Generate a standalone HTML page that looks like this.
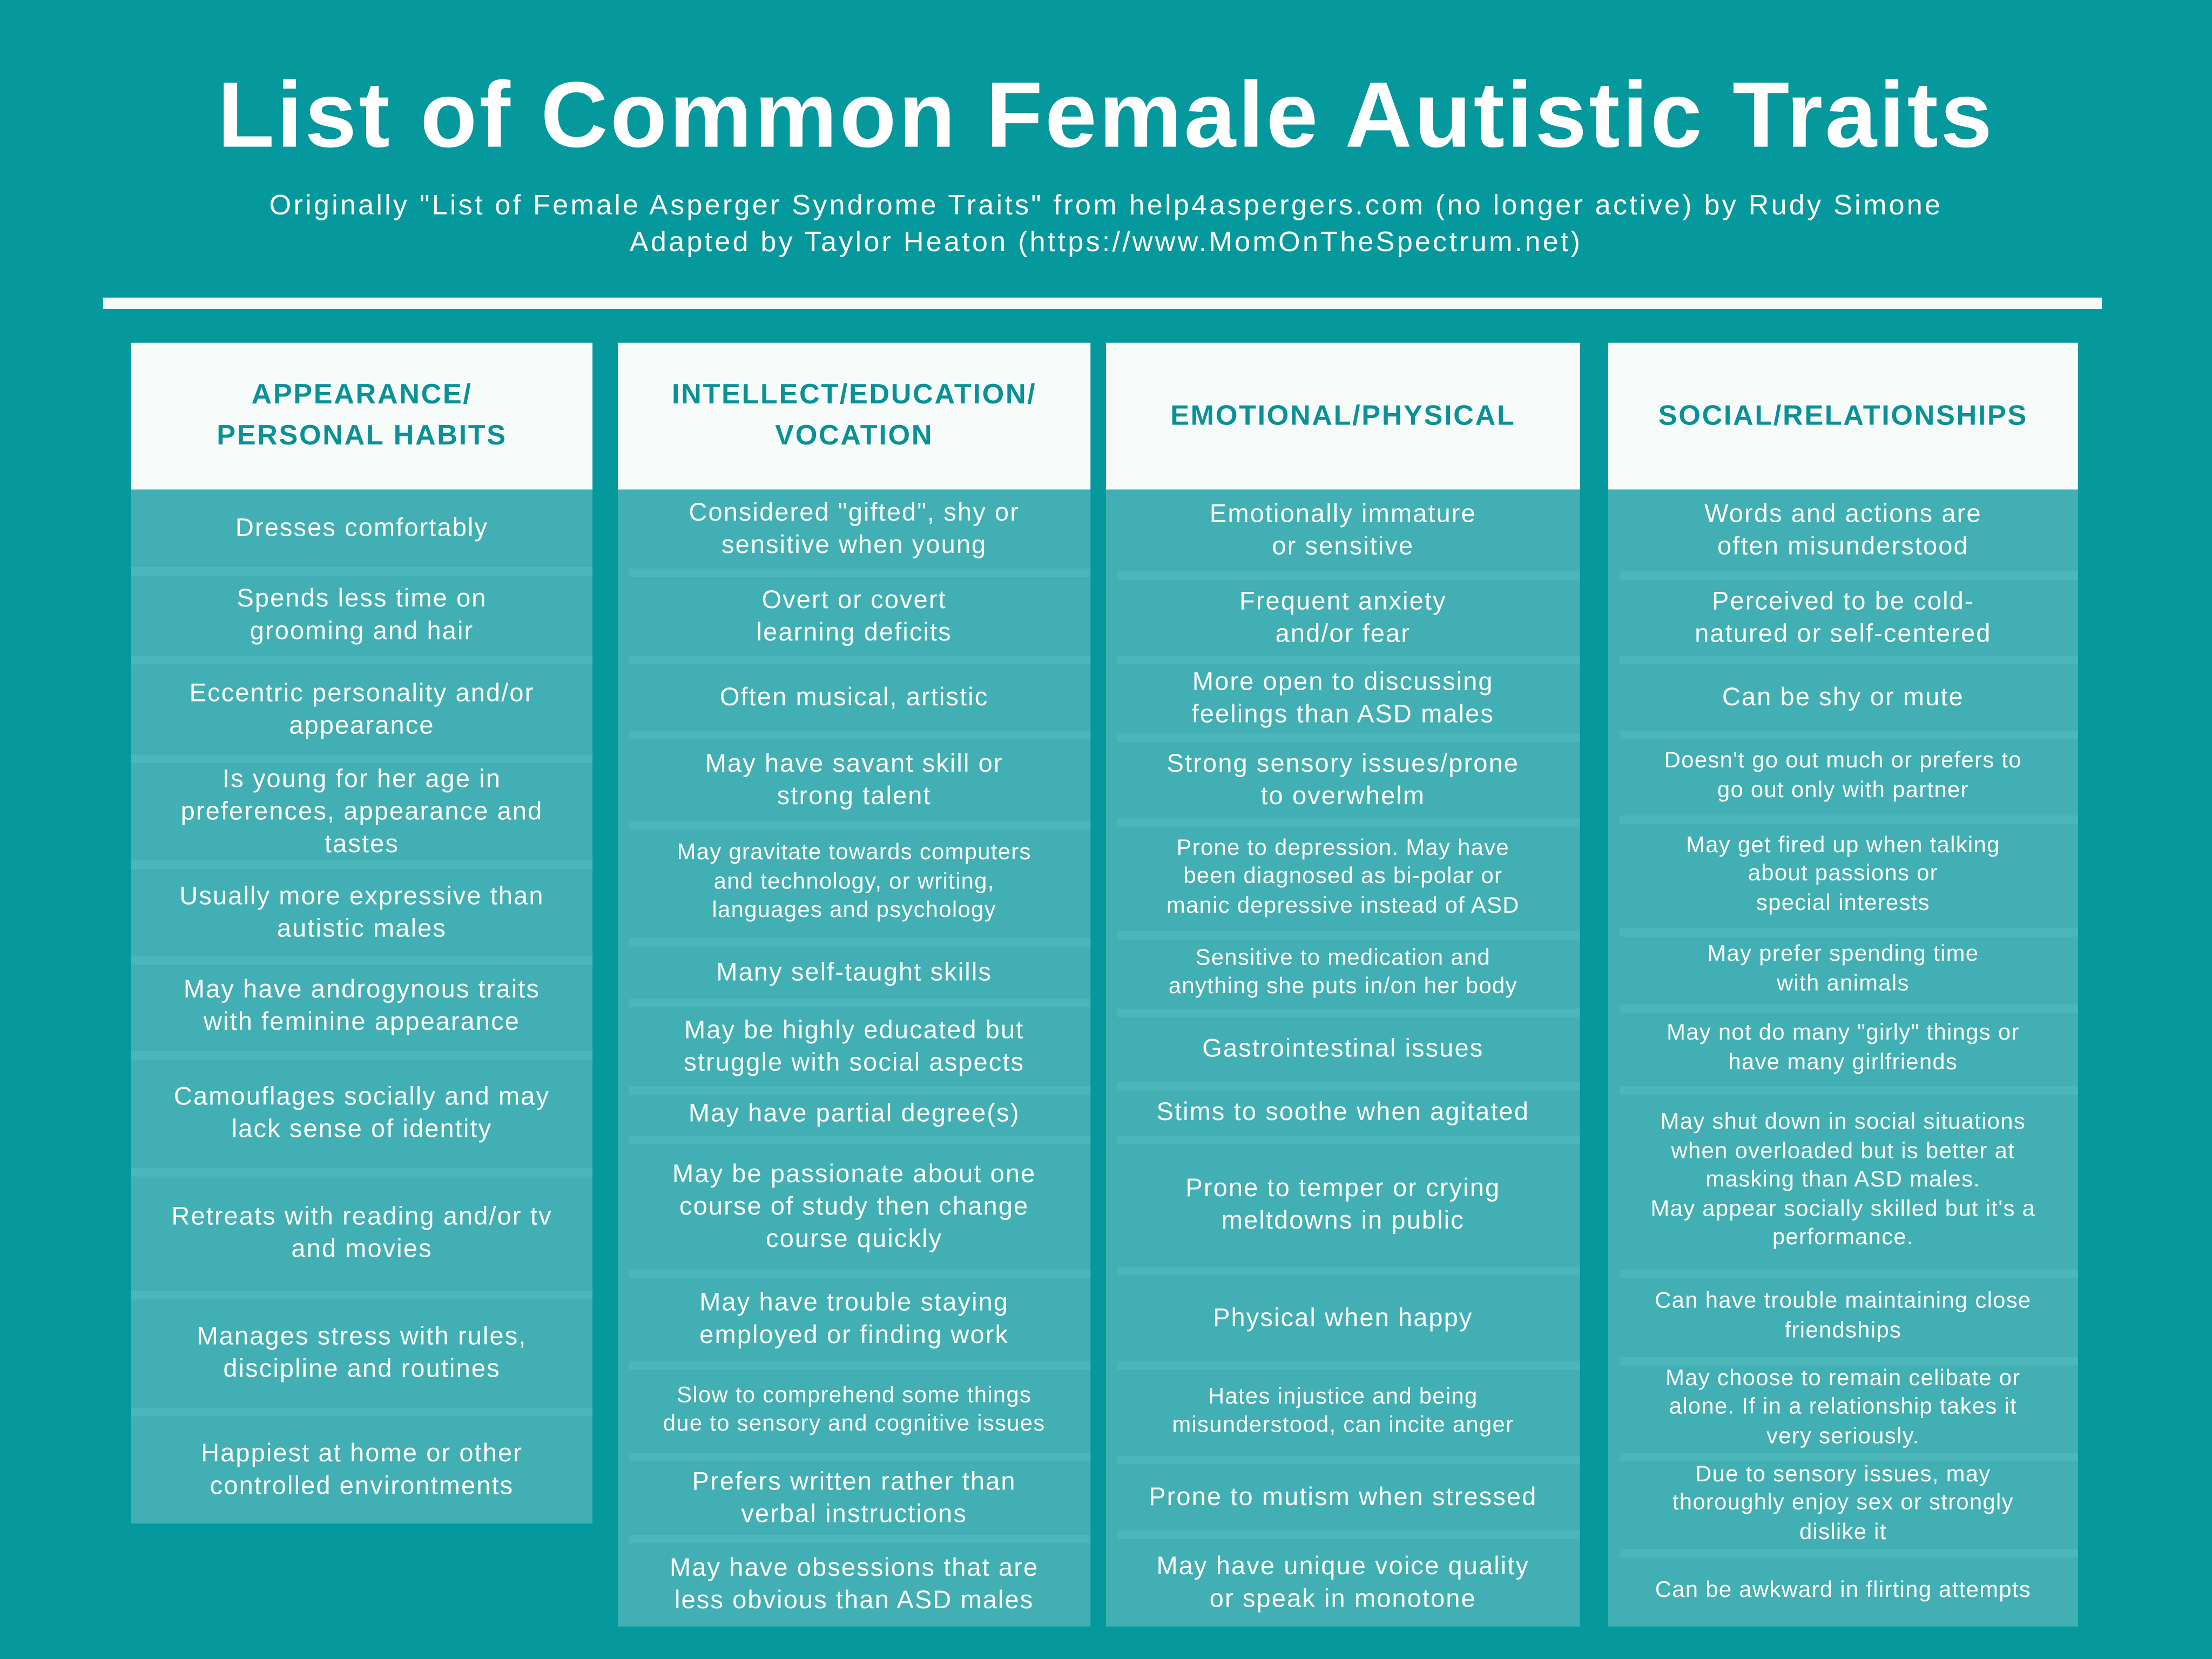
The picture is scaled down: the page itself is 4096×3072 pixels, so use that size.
<!DOCTYPE html>
<html><head><meta charset="utf-8">
<style>
html,body{margin:0;padding:0;width:4096px;height:3072px;overflow:hidden;background:#05989c;}
#wrap{position:absolute;left:0;top:0;width:1568px;height:1176px;transform:scale(2.6122);transform-origin:0 0;font-family:"Liberation Sans",sans-serif;color:#fff;}
.title{position:absolute;left:0;width:1568px;top:43px;text-align:center;font-weight:bold;font-size:66px;letter-spacing:1.6px;}
.sub{position:absolute;left:0;width:1568px;text-align:center;font-size:20px;letter-spacing:1.6px;}
.rule{position:absolute;left:73px;width:1417px;top:211px;height:8px;background:#f4fbfa;}
.col{position:absolute;background:#41afb3;}
.head{position:absolute;left:0;right:0;top:0;height:104px;background:#f7fcfb;color:#0a9197;font-weight:bold;font-size:20px;letter-spacing:1px;display:flex;align-items:center;justify-content:center;text-align:center;line-height:29px;}
.cell{position:absolute;left:0;right:0;display:flex;align-items:center;justify-content:center;text-align:center;font-size:18px;letter-spacing:0.8px;line-height:23px;padding:0 8px;box-sizing:border-box;}
.cell.s{font-size:16px;line-height:20.5px;letter-spacing:0.5px;}
.sep{position:absolute;right:0;height:6px;background:#4cb7ba;}
</style></head>
<body>
<div id="wrap">
<div class="title">List of Common Female Autistic Traits</div>
<div class="sub" style="top:135px">Originally "List of Female Asperger Syndrome Traits" from help4aspergers.com (no longer active) by Rudy Simone</div>
<div class="sub" style="top:161px">Adapted by Taylor Heaton (https://www.MomOnTheSpectrum.net)</div>
<div class="rule"></div>
</div>
<script>
const wrap=document.getElementById('wrap');
const cols=[
{x:93,w:327,end:1080,inset:0,head:'APPEARANCE/<br>PERSONAL HABITS',name:'appearance-column',cells:[
[347,402,'Dresses comfortably'],[407,465,'Spends less time on<br>grooming and hair'],[470,535,'Eccentric personality and/or<br>appearance'],[540,610,'Is young for her age in<br>preferences, appearance and<br>tastes'],[615,678,'Usually more expressive than<br>autistic males'],[680,745,'May have androgynous traits<br>with feminine appearance'],[750,828,'Camouflages socially and may<br>lack sense of identity'],[833,915,'Retreats with reading and/or tv<br>and movies'],[920,998,'Manages stress with rules,<br>discipline and routines'],[1003,1080,'Happiest at home or other<br>controlled environtments']]},
{x:438,w:335,end:1153,inset:8,head:'INTELLECT/EDUCATION/<br>VOCATION',name:'intellect-column',cells:[
[347,403,'Considered "gifted", shy or<br>sensitive when young'],[408,465,'Overt or covert<br>learning deficits'],[470,518,'Often musical, artistic'],[523,582,'May have savant skill or<br>strong talent'],[587,665,'May gravitate towards computers<br>and technology, or writing,<br>languages and psychology','s'],[670,708,'Many self-taught skills'],[713,770,'May be highly educated but<br>struggle with social aspects'],[773,805,'May have partial degree(s)'],[810,900,'May be passionate about one<br>course of study then change<br>course quickly'],[905,965,'May have trouble staying<br>employed or finding work'],[970,1030,'Slow to comprehend some things<br>due to sensory and cognitive issues','s'],[1035,1088,'Prefers written rather than<br>verbal instructions'],[1093,1153,'May have obsessions that are<br>less obvious than ASD males']]},
{x:784,w:336,end:1153,inset:8,head:'EMOTIONAL/PHYSICAL',name:'emotional-column',cells:[
[347,405,'Emotionally immature<br>or sensitive'],[410,465,'Frequent anxiety<br>and/or fear'],[470,520,'More open to discussing<br>feelings than ASD males'],[525,580,'Strong sensory issues/prone<br>to overwhelm'],[585,660,'Prone to depression. May have<br>been diagnosed as bi-polar or<br>manic depressive instead of ASD','s'],[665,715,'Sensitive to medication and<br>anything she puts in/on her body','s'],[720,767,'Gastrointestinal issues'],[772,805,'Stims to soothe when agitated'],[810,898,'Prone to temper or crying<br>meltdowns in public'],[903,965,'Physical when happy'],[970,1032,'Hates injustice and being<br>misunderstood, can incite anger','s'],[1037,1085,'Prone to mutism when stressed'],[1090,1153,'May have unique voice quality<br>or speak in monotone']]},
{x:1140,w:333,end:1153,inset:8,head:'SOCIAL/RELATIONSHIPS',name:'social-column',cells:[
[347,405,'Words and actions are<br>often misunderstood'],[410,465,'Perceived to be cold-<br>natured or self-centered'],[470,518,'Can be shy or mute'],[523,578,'Doesn\'t go out much or prefers to<br>go out only with partner','s'],[583,658,'May get fired up when talking<br>about passions or<br>special interests','s'],[663,712,'May prefer spending time<br>with animals','s'],[717,770,'May not do many "girly" things or<br>have many girlfriends','s'],[775,900,'May shut down in social situations<br>when overloaded but is better at<br>masking than ASD males.<br>May appear socially skilled but it\'s a<br>performance.','s'],[905,962,'Can have trouble maintaining close<br>friendships','s'],[967,1030,'May choose to remain celibate or<br>alone. If in a relationship takes it<br>very seriously.','s'],[1035,1098,'Due to sensory issues, may<br>thoroughly enjoy sex or strongly<br>dislike it','s'],[1103,1153,'Can be awkward in flirting attempts','s']]}
];
cols.forEach(c=>{
  const col=document.createElement('div');
  col.className='col';
  
  
  col.style.cssText=`left:${c.x}px;top:243px;width:${c.w}px;height:${c.end-243}px`;
  const h=document.createElement('div');
  h.className='head';h.innerHTML=c.head;
  
  
  col.appendChild(h);
  c.cells.forEach((t,i)=>{
    const d=document.createElement('div');
    d.className='cell'+(t[3]?' s':'');
    
    
    d.style.top=(t[0]-243)+'px';d.style.height=(t[1]-t[0])+'px';
    d.innerHTML=t[2];
    col.appendChild(d);
    if(i<c.cells.length-1){
      const s=document.createElement('div');
      s.className='sep';
      
      
      s.style.top=(t[1]-243)+'px';s.style.left=c.inset+'px';
      col.appendChild(s);
    }
  });
  wrap.appendChild(col);
});
</script>
</body></html>
